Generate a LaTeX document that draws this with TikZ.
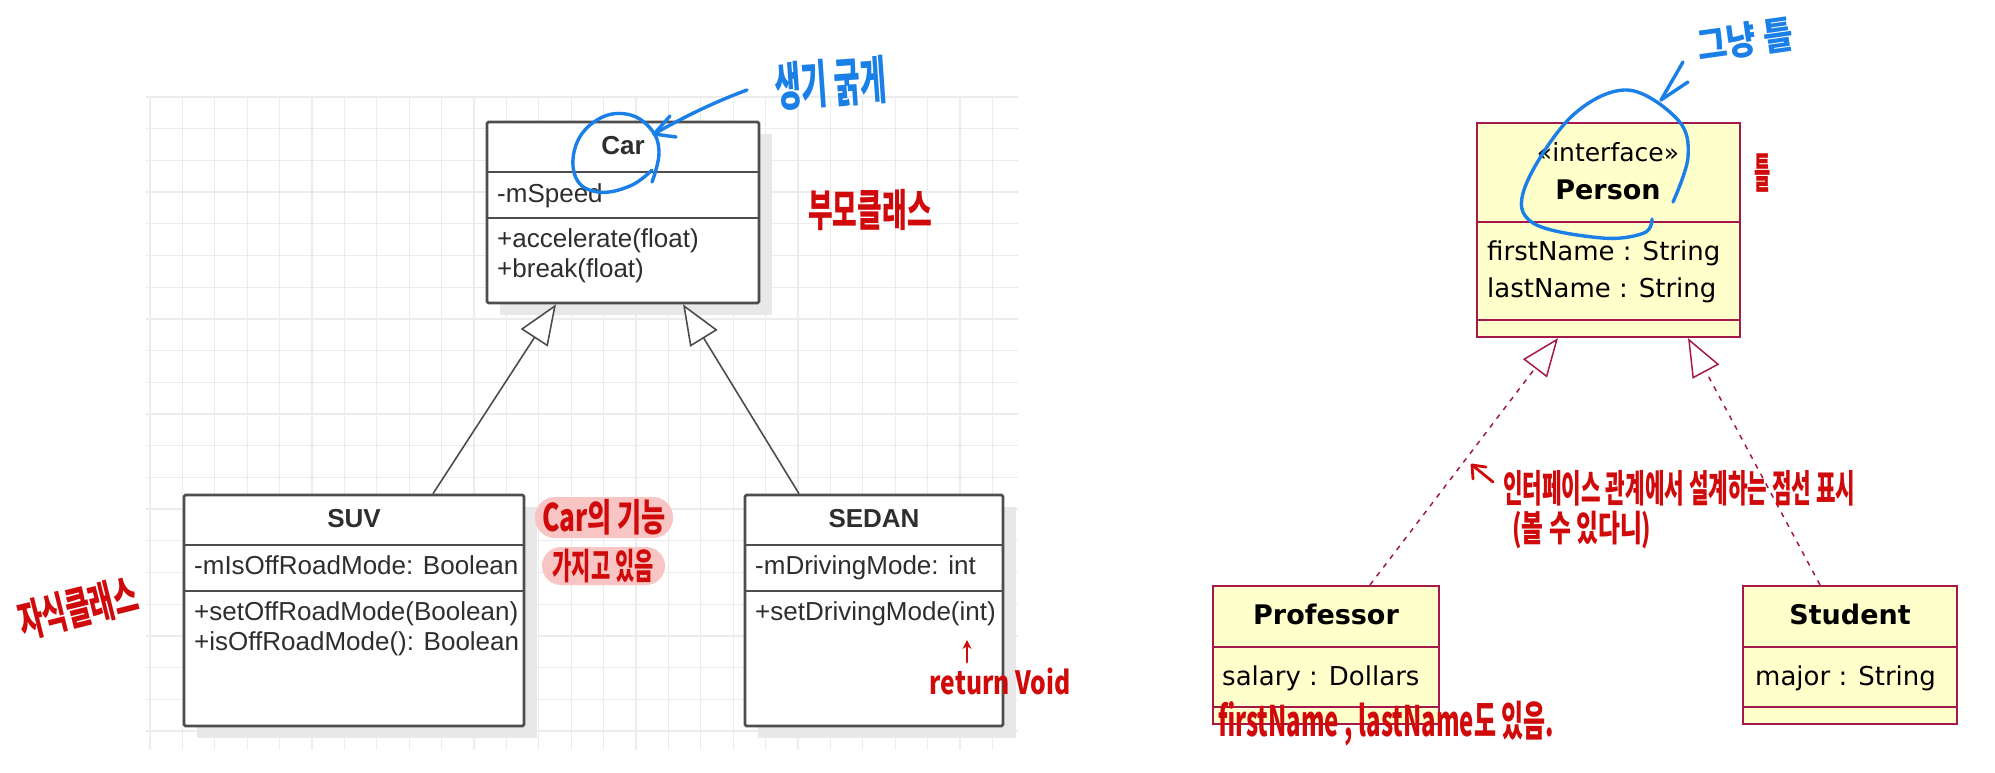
\documentclass[tikz,border=0pt]{standalone}
\usepackage{fontspec}
\setmainfont{Liberation Sans}
\newfontfamily\djv{DejaVu Sans}
\newfontfamily\krf{Noto Sans CJK KR}
\newfontfamily\krnarrow[FakeStretch=0.6]{Noto Sans CJK KR}
\usetikzlibrary{arrows.meta}
\definecolor{umlline}{HTML}{4D4D4D}
\definecolor{umltext}{HTML}{2E2E2E}
\definecolor{gridc}{HTML}{ECECEC}
\definecolor{shadowc}{HTML}{E8E8E8}
\definecolor{ifline}{HTML}{A3194B}
\definecolor{ifacefill}{HTML}{FFFFCC}
\definecolor{penblue}{HTML}{1A7FE6}
\definecolor{penred}{HTML}{D00A0A}
\definecolor{hilite}{HTML}{F8C4C4}
\begin{document}
\begin{tikzpicture}[x=1pt,y=-1pt,
  gridline/.style={draw=gridc, line width=1.3pt},
  umlbox/.style={draw=umlline, line width=2.6pt, fill=white, rectangle, inner sep=0pt, rounded corners=1.5pt},
  umldiv/.style={draw=umlline, line width=2.6pt},
  ltxt/.style={font=\fontsize{26}{30}\selectfont, text=umltext, anchor=west, inner sep=0pt, text height=19pt, text depth=5pt},
  lname/.style={font=\fontsize{26}{30}\selectfont\bfseries, text=umltext, inner sep=0pt, text height=19pt, text depth=5pt},
  genline/.style={draw=umlline, line width=1.6pt, -{Triangle[length=40pt, width=32pt, fill=white]}},
  ifbox/.style={draw=ifline, line width=2.2pt, fill=ifacefill, rectangle, inner sep=0pt},
  ifdiv/.style={draw=ifline, line width=2.2pt},
  rtxt/.style={font=\djv\fontsize{26}{30}\selectfont, text=black, anchor=west, inner sep=0pt, text height=19pt, text depth=5pt},
  rname/.style={font=\djv\fontsize{27}{30}\selectfont\bfseries, text=black, inner sep=0pt, text height=19pt, text depth=5pt},
  realline/.style={draw=ifline, line width=1.5pt, dash pattern=on 5pt off 6pt, -{Triangle[open, length=38pt, width=30pt]}},
  pen/.style={line width=3.4pt, line cap=round, line join=round},
  bluepen/.style={pen, draw=penblue},
  redpen/.style={pen, draw=penred, line width=2.8pt},
  hand/.style={inner sep=0pt, font=\krf\bfseries}
]
\useasboundingbox (0,0) rectangle (1995,773);
\fill[white] (0,0) rectangle (1995,773);

% ---------- grid background (left) ----------
\foreach \i in {0,...,26}{\draw[gridline] ({150+32.4*\i},97) -- ({150+32.4*\i},750);}
\foreach \j in {0,...,20}{\draw[gridline] (146,{97+31.7*\j}) -- (1018,{97+31.7*\j});}

% ---------- Car ----------
\fill[shadowc] (500,134) rectangle (772,315);
\node[umlbox, minimum width=272pt, minimum height=181pt] (car) at (623,212.5) {};
\draw[umldiv] (487,172) -- (759,172);
\draw[umldiv] (487,218) -- (759,218);
\node[lname] (carn) at (623,148) {Car};
\node[ltxt] (cara) at (497,195) {-mSpeed};
\node[ltxt] (carm1) at (497,240) {+accelerate(float)};
\node[ltxt] (carm2) at (497,270) {+break(float)};

% ---------- SUV ----------
\fill[shadowc] (197,507) rectangle (537,738);
\node[umlbox, minimum width=340pt, minimum height=231pt] (suv) at (354,610.5) {};
\draw[umldiv] (184,545) -- (524,545);
\draw[umldiv] (184,591) -- (524,591);
\node[lname] (suvn) at (354,520) {SUV};
\node[ltxt] (suva) at (194,567) {-mIsOffRoadMode: Boolean};
\node[ltxt] (suvm1) at (194,613) {+setOffRoadMode(Boolean)};
\node[ltxt] (suvm2) at (194,643) {+isOffRoadMode(): Boolean};

% ---------- SEDAN ----------
\fill[shadowc] (758,507) rectangle (1016,738);
\node[umlbox, minimum width=258pt, minimum height=231pt] (sedan) at (874,610.5) {};
\draw[umldiv] (745,545) -- (1003,545);
\draw[umldiv] (745,591) -- (1003,591);
\node[lname] (sedn) at (874,520) {SEDAN};
\node[ltxt] (seda) at (755,567) {-mDrivingMode: int};
\node[ltxt] (sedm1) at (755,613) {+setDrivingMode(int)};

% ---------- generalisation arrows ----------
\draw[genline] ([xshift=79pt]suv.north) -- ([xshift=-67pt]car.south);
\draw[genline] ([xshift=-75pt]sedan.north) -- ([xshift=60pt]car.south);

% ---------- Person ----------
\node[ifbox, minimum width=263pt, minimum height=214pt] (person) at (1608.5,230) {};
\draw[ifdiv] (1477,222) -- (1740,222);
\draw[ifdiv] (1477,320) -- (1740,320);
\node[inner sep=0pt, font=\djv\fontsize{25}{30}\selectfont, text height=19pt, text depth=5pt] (stereo) at (1608,155) {«interface»};
\node[rname] (personn) at (1608,192) {Person};
\node[rtxt] (pa1) at (1487,253) {firstName : String};
\node[rtxt] (pa2) at (1487,290) {lastName : String};

% ---------- Professor ----------
\node[ifbox, minimum width=226pt, minimum height=138pt] (prof) at (1326,655) {};
\draw[ifdiv] (1213,647) -- (1439,647);
\draw[ifdiv] (1213,707) -- (1439,707);
\node[rname] (profn) at (1326,617) {Professor};
\node[rtxt] (profa) at (1222,678) {salary : Dollars};

% ---------- Student ----------
\node[ifbox, minimum width=214pt, minimum height=138pt] (stud) at (1850,655) {};
\draw[ifdiv] (1743,647) -- (1957,647);
\draw[ifdiv] (1743,707) -- (1957,707);
\node[rname] (studn) at (1850,617) {Student};
\node[rtxt] (studa) at (1755,678) {major : String};

% ---------- realisation arrows ----------
\draw[realline] ([xshift=44pt]prof.north) -- ([xshift=-50.5pt]person.south);
\draw[realline] ([xshift=-30pt]stud.north) -- ([xshift=79.5pt]person.south);

% ---------- handwritten annotations: blue ----------
\draw[bluepen] plot[smooth, tension=0.7] coordinates {(652,170) (630,186) (598,192) (576,178) (576,145) (597,120) (626,114) (650,128) (659,152) (652,182)};
\node[hand, text=penblue, rotate=4] (bluel) at (831,83) {\fontsize{52}{56}\selectfont\scalebox{0.55}[1]{생기 굵게}};
\coordinate (blt) at (654,134);
\draw[bluepen] (747,90) .. controls (712,103) and (682,118) .. (blt);
\draw[bluepen] (670,116) -- (blt) -- (676,137);

\draw[bluepen] plot[smooth, tension=0.6] coordinates {(1673,202) (1688,157) (1678,120) (1627,90) (1571,117) (1525,187) (1533,223) (1602,238) (1644,233) (1652,219)};
\node[hand, text=penblue, rotate=8] (bluer) at (1745,40) {\fontsize{38}{42}\selectfont\scalebox{0.85}[1]{그냥 틀}};
\coordinate (brt) at (1661,100);
\draw[bluepen] (1683,62) -- (brt);
\draw[bluepen] (1688,82) -- (brt);

% ---------- handwritten annotations: red ----------
\node[hand, text=penred] (parent) at (870,210) {\fontsize{44}{48}\selectfont\scalebox{0.61}[1]{부모클래스}};
\node[inner sep=0pt, text=penred, rotate=14, font=\krnarrow\bfseries\fontsize{44}{48}\selectfont] (child) at (78,608) {자식클래스};

\fill[hilite, rounded corners=20pt] (535,497) rectangle (673,538);
\fill[hilite, rounded corners=19pt] (542,547) rectangle (665,585);
\node[hand, text=penred] (has1) at (604,517) {\fontsize{38}{42}\selectfont\scalebox{0.69}[1]{Car의 기능}};
\node[hand, text=penred] (has2) at (603,566) {\fontsize{36}{40}\selectfont\scalebox{0.58}[1]{가지고 있음}};

\node[hand, text=penred] (rvoid) at (1000,681) {\fontsize{32}{36}\selectfont\scalebox{0.77}[1]{return Void}};
\coordinate (rvt) at (967,640);
\draw[redpen, -{Stealth[length=9pt, width=9pt]}] (967,662) -- (rvt);

\node[hand, text=penred] (frame) at (1763,173) {\fontsize{42}{46}\selectfont\scalebox{0.42}[1]{틀}};

\node[hand, text=penred, anchor=west] (note1) at (1503,488) {\fontsize{38}{42}\selectfont\scalebox{0.56}[1]{인터페이스 관계에서 설계하는 점선 표시}};
\node[hand, text=penred, anchor=west] (note2) at (1512,530) {\fontsize{36}{40}\selectfont\scalebox{0.66}[1]{(볼 수 있다니)}};
\coordinate (nt) at (1472,465);
\draw[redpen] (1493,482) -- (nt);
\draw[redpen] (1486,467) -- (nt) -- (1473,479);

\node[hand, text=penred, anchor=west] (note3) at (1218,724) {\fontsize{42}{46}\selectfont\scalebox{0.57}[1]{firstName , lastName도 있음.}};
\end{tikzpicture}
\end{document}
